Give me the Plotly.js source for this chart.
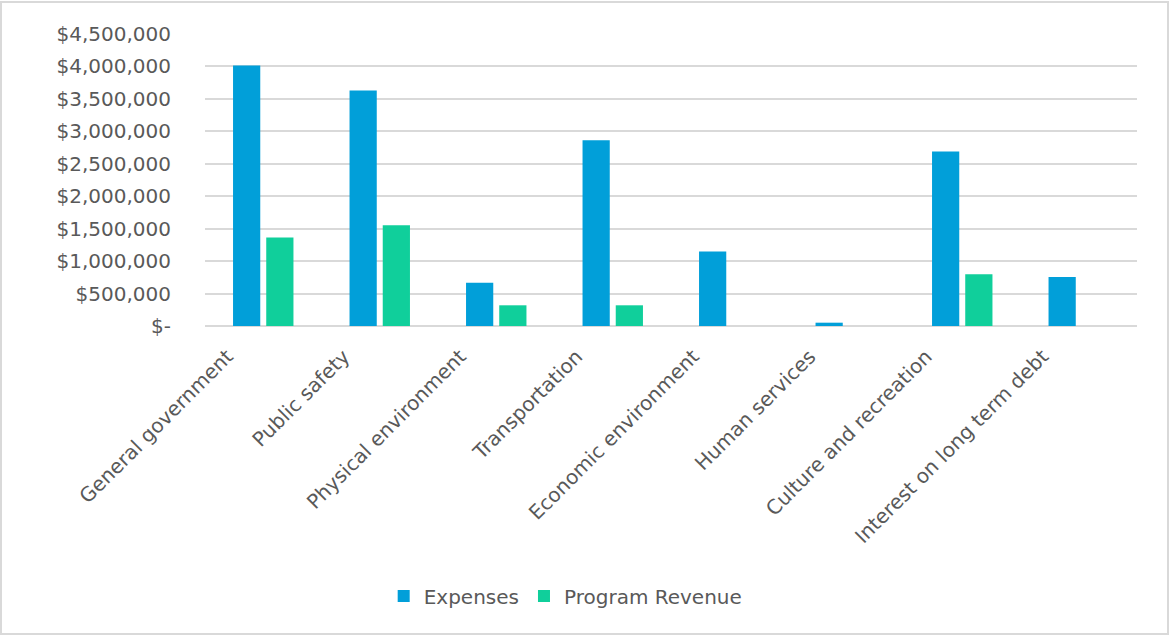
<!DOCTYPE html>
<html>
<head>
<meta charset="utf-8">
<script src="https://cdn.plot.ly/plotly-3.0.1.min.js"></script>
<style>
  html, body { margin: 0; padding: 0; background: #fff; }
  #wrap { position: relative; width: 1171px; height: 637px; }
  #chart { position: absolute; left: 0; top: 0; width: 1171px; height: 637px; }
  #frame { position: absolute; left: 0; top: 1px; width: 1165px; height: 630px; border: 2px solid #d9d9d9; pointer-events: none; }
</style>
</head>
<body>
<div id="wrap">
  <div id="chart"></div>
  <div id="frame"></div>
</div>
<script>
const categories = [
  "General government",
  "Public safety",
  "Physical environment",
  "Transportation",
  "Economic environment",
  "Human services",
  "Culture and recreation",
  "Interest on long term debt"
];
const expenses = [4014000, 3628000, 668000, 2861000, 1147000, 51000, 2691000, 756000];
const programRevenue = [1363000, 1554000, 319000, 319000, 0, 0, 798000, 0];

const yTickVals = [0, 500000, 1000000, 1500000, 2000000, 2500000, 3000000, 3500000, 4000000, 4500000];
const yTickText = ["$-", "$500,000", "$1,000,000", "$1,500,000", "$2,000,000", "$2,500,000", "$3,000,000", "$3,500,000", "$4,000,000", "$4,500,000"];

const FONT = "DejaVu Sans, sans-serif";
const TEXT = "#595959";

const traces = [
  { type: "bar", name: "Expenses", x: categories, y: expenses,
    marker: { color: "#019fd9" }, hoverinfo: "x+y" },
  { type: "bar", name: "Program Revenue", x: categories, y: programRevenue,
    marker: { color: "#10cf9b" }, hoverinfo: "x+y" }
];

const layout = {
  width: 1171, height: 637,
  margin: { l: 205, r: 34, t: 34, b: 311, pad: 0 },
  paper_bgcolor: "#ffffff",
  plot_bgcolor: "#ffffff",
  barmode: "group",
  bargap: 0.43,
  bargroupgap: 0.18,
  font: { family: FONT, color: TEXT, size: 20 },
  xaxis: {
    type: "category",
    tickangle: -45,
    tickfont: { family: FONT, size: 20, color: TEXT },
    showgrid: false,
    showline: false,
    ticks: "",
    ticklabelshift: -36,
    ticklabelstandoff: 14,
    automargin: false
  },
  yaxis: {
    range: [0, 4500000],
    tickvals: yTickVals,
    ticktext: yTickText,
    tickfont: { family: FONT, size: 20, color: TEXT },
    showgrid: true,
    gridcolor: "#d9d9d9",
    gridwidth: 2,
    zeroline: true,
    zerolinecolor: "#d9d9d9",
    zerolinewidth: 2,
    ticks: "",
    ticklabelstandoff: 33,
    automargin: false
  },
  showlegend: true,
  legend: {
    orientation: "h",
    x: 0.387, xanchor: "center",
    y: -0.925, yanchor: "middle",
    font: { family: FONT, size: 20, color: TEXT },
    itemwidth: 30,
    bgcolor: "rgba(0,0,0,0)"
  }
};

Plotly.newPlot("chart", traces, layout, { displayModeBar: false, staticPlot: true });
</script>
</body>
</html>
